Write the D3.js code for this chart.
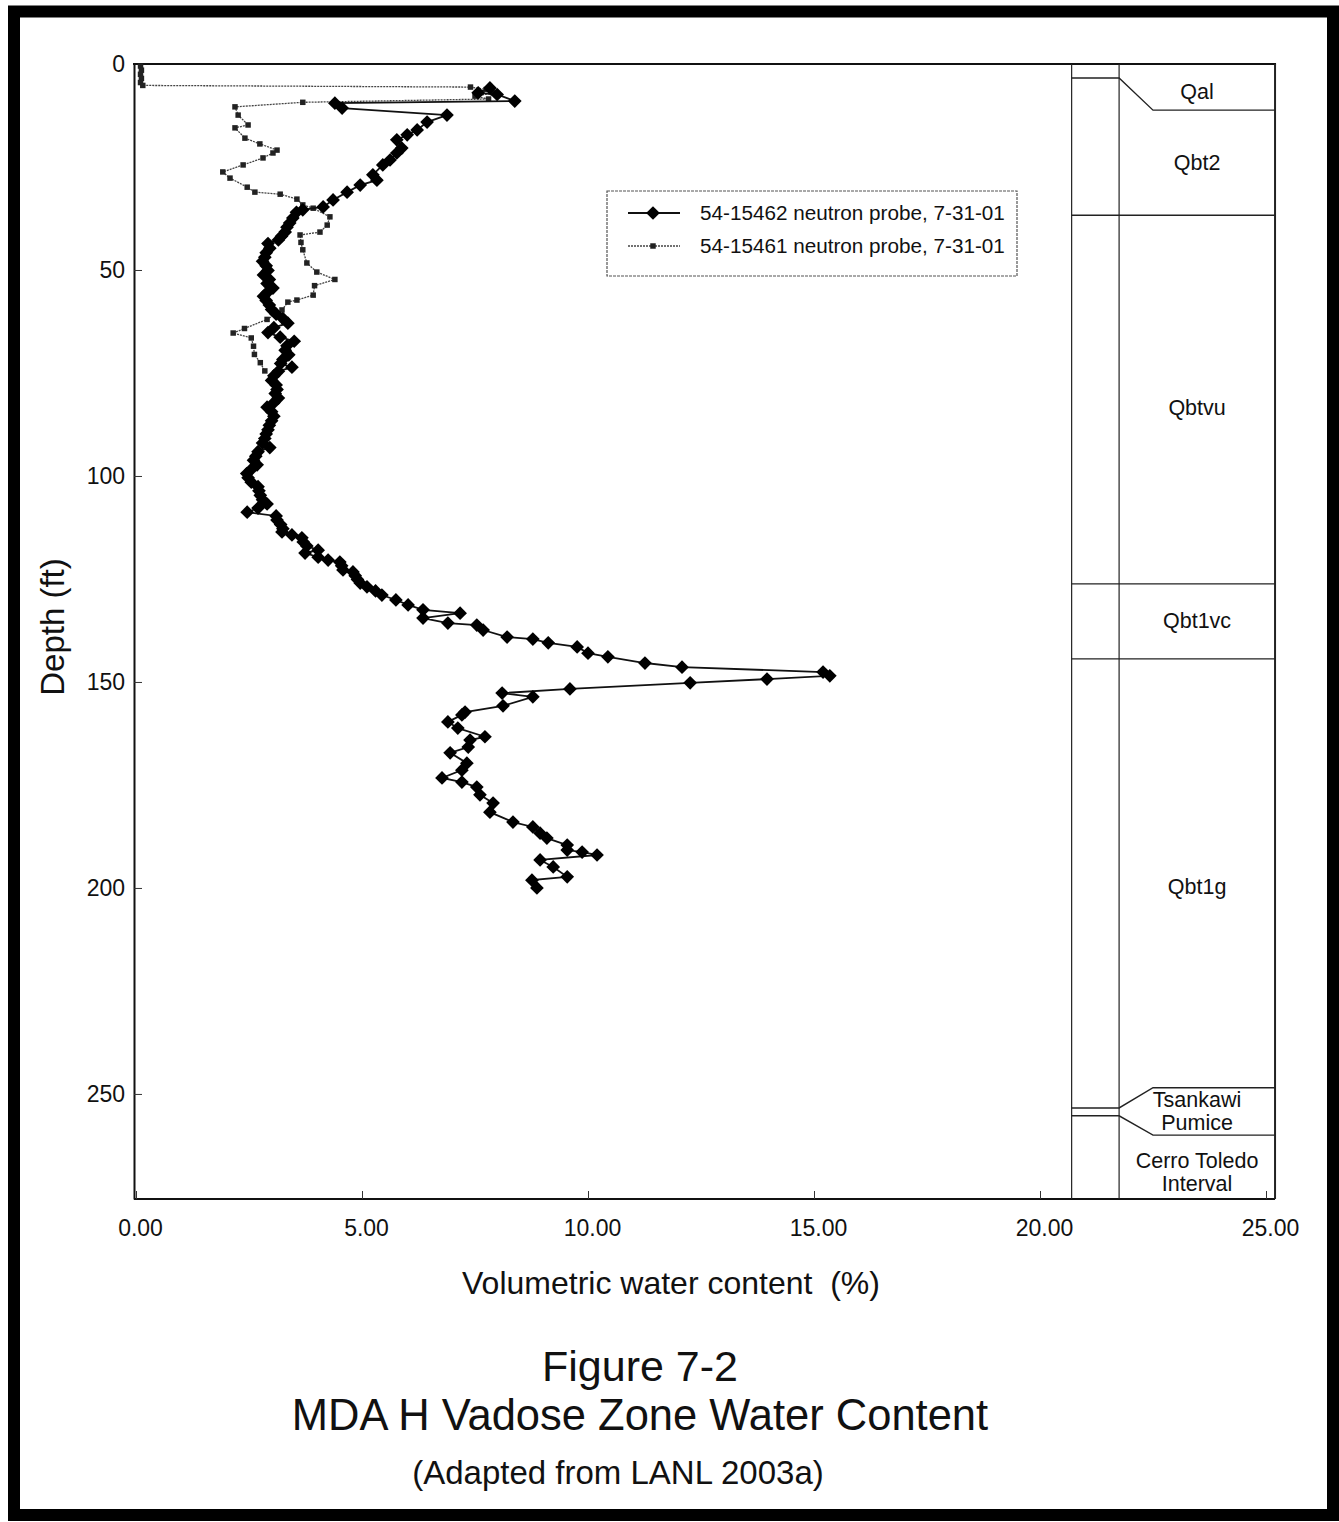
<!DOCTYPE html>
<html><head><meta charset="utf-8">
<script src="https://cdn.jsdelivr.net/npm/d3@7"></script>
<style>body{margin:0;background:#fff} svg{display:block} text{font-family:"Liberation Sans",Arial,sans-serif;fill:#111}</style>
</head><body>
<svg id="c" width="1339" height="1522"></svg>
<script>
// ---------- data ----------
const depthTicks = [0, 50, 100, 150, 200, 250];
const contentTicks = [0, 5, 10, 15, 20, 25];
const seriesNames = ["54-15462 neutron probe, 7-31-01", "54-15461 neutron probe, 7-31-01"];
// [depth ft, volumetric water content %]
const probe15462 = [
 [5.8,7.83],[7.0,7.57],[7.4,7.99],[9.0,8.38],[9.5,4.40],[10.7,4.56],[12.4,6.88],[14.1,6.44],[16.0,6.22],
 [17.2,6.00],[18.4,5.77],[20.4,5.88],[21.6,5.77],[23.3,5.62],[24.5,5.46],[26.9,5.24],[28.2,5.33],[29.4,4.96],
 [31.1,4.67],[33.0,4.36],[34.7,4.14],[35.4,3.69],[36.0,3.55],[37.4,3.47],[38.6,3.40],[39.6,3.34],[40.8,3.30],
 [41.8,3.22],[42.7,3.15],[43.6,2.92],[44.7,2.96],[45.8,2.88],[46.9,2.85],[47.9,2.80],[49.0,2.88],[50.1,2.92],
 [51.2,2.82],[52.3,2.95],[53.3,2.90],[54.4,3.03],[55.5,2.90],[56.4,2.82],[57.4,2.88],[58.5,2.95],[59.6,3.00],
 [60.7,3.10],[61.8,3.25],[62.9,3.36],[64.0,3.05],[65.2,2.92],[66.3,3.19],[67.3,3.50],[68.4,3.34],[69.5,3.30],
 [70.6,3.38],[71.7,3.25],[72.7,3.20],[73.6,3.45],[74.6,3.15],[75.7,3.05],[76.8,3.00],[77.9,3.10],[79.0,3.12],
 [80.0,3.08],[81.1,3.15],[82.2,3.05],[83.3,2.90],[84.4,3.00],[85.5,3.05],[86.6,3.00],[87.7,2.95],[88.8,2.92],
 [89.8,2.88],[90.9,2.85],[92.0,2.80],[93.1,2.96],[94.1,2.70],[95.2,2.65],[96.2,2.60],[97.3,2.68],[98.4,2.55],
 [99.4,2.45],[100.4,2.48],[101.5,2.55],[102.6,2.70],[103.6,2.72],[104.7,2.75],[105.8,2.80],[106.8,2.90],
 [107.8,2.70],[108.8,2.46],[109.7,3.10],[110.7,3.12],[111.8,3.20],[112.8,3.25],[113.6,3.23],[114.3,3.45],
 [115.0,3.67],[116.0,3.70],[117.0,3.78],[118.0,4.03],[118.7,3.74],[119.7,4.03],[120.4,4.25],[120.9,4.51],
 [121.8,4.55],[122.8,4.58],[123.3,4.80],[124.2,4.85],[125.1,4.90],[126.0,4.96],[126.9,5.11],[127.9,5.30],
 [128.9,5.44],[130.1,5.75],[131.3,6.02],[132.5,6.35],[133.3,7.17],[134.5,6.35],[135.7,6.90],[136.2,7.54],
 [137.4,7.68],[139.1,8.21],[139.6,8.78],[140.5,9.12],[141.5,9.76],[143.0,10.00],[143.9,10.44],[145.4,11.26],
 [146.4,12.08],[147.6,15.20],[148.5,15.35],[149.3,13.96],[150.2,12.26],[151.7,9.60],[152.7,8.10],[153.6,8.78],
 [155.8,8.12],[157.3,7.28],[158.0,7.21],[159.7,6.90],[161.2,7.12],[163.3,7.72],[164.1,7.39],[165.8,7.35],
 [167.2,6.95],[169.7,7.32],[171.4,7.21],[173.3,6.77],[174.3,7.21],[175.5,7.54],[177.4,7.61],[179.4,7.90],
 [181.6,7.83],[184.0,8.34],[185.2,8.78],[186.7,8.94],[187.9,9.09],[189.6,9.54],[190.8,9.54],[191.3,9.87],
 [192.0,10.20],[193.2,8.94],[194.9,9.23],[197.3,9.54],[198.1,8.76],[200.0,8.87]
];
const probe15461 = [
 [0.5,0.10],[1.5,0.12],[2.5,0.10],[3.5,0.12],[4.5,0.10],[5.2,0.15],[5.6,7.40],[6.2,7.75],[7.0,7.90],[7.8,7.50],
 [8.5,7.80],[9.3,3.69],[10.4,2.19],[12.4,2.26],[14.8,2.48],[15.5,2.19],[18.0,2.41],[19.4,2.74],[20.9,3.12],
 [21.6,3.03],[22.8,2.81],[24.5,2.37],[26.2,1.92],[27.7,2.08],[29.9,2.46],[31.1,2.63],[31.6,3.19],[32.8,3.56],
 [34.2,3.69],[35.0,3.92],[37.1,4.29],[39.1,4.23],[40.8,4.07],[41.5,3.63],[43.3,3.65],[45.1,3.69],[48.3,3.78],
 [50.5,4.00],[52.3,4.40],[53.8,3.95],[56.1,3.92],[57.3,3.56],[57.8,3.36],[59.7,3.23],[62.0,2.90],[64.2,2.40],
 [65.3,2.15],[66.5,2.55],[68.5,2.60],[70.5,2.62],[72.5,2.75],[74.5,2.85]
];
// stratigraphy
const unitNames = [["Qal"],["Qbt2"],["Qbtvu"],["Qbt1vc"],["Qbt1g"],["Tsankawi","Pumice"],["Cerro Toledo","Interval"]];
const contactsRight = [11.2, 36.7, 126.2, 144.4, 248.5, 260.0];  // depth of contact in unit column
const contactsLog   = [3.4, 36.7, 126.2, 144.4, 253.4, 255.3];   // depth of contact in log columns
const maxDepth = 275.5;

// ---------- layout ----------
const svg = d3.select("#c");
const x = d3.scaleLinear().domain([0, 25]).range([136, 1266]);
const y = d3.scaleLinear().domain([0, maxDepth]).range([64, 1199]);
const colLeft = 20.7, colInner = 21.75, colRight = 25.2, slant = 0.75;
const bigSym = 120, smallSym = 30;

svg.append("rect").attr("x",0).attr("y",0).attr("width",1339).attr("height",1522).attr("fill","#fff");
svg.append("rect").attr("x",14).attr("y",11.5).attr("width",1319).attr("height",1503.5)
  .attr("fill","none").attr("stroke","#000").attr("stroke-width",12);

// axes
const yAxis = d3.axisLeft(y).tickValues(depthTicks).tickSizeInner(-8).tickSizeOuter(0).tickPadding(9).tickFormat(d3.format("d"));
const gy = svg.append("g").attr("transform","translate(134,0)").call(yAxis);
const xAxis = d3.axisBottom(x).tickValues(contentTicks).tickSizeInner(-8).tickSizeOuter(0).tickPadding(21).tickFormat(d3.format(".2f"));
const gx = svg.append("g").attr("transform","translate(0,1199)").call(xAxis);
[gx, gy].forEach(g => {
  g.select(".domain").attr("stroke","#111").attr("stroke-width",2);
  g.selectAll(".tick line").attr("stroke","#333").attr("stroke-width",1);
  g.selectAll(".tick text").attr("font-size",23).attr("fill","#111");
});
gx.select(".domain").attr("d", `M${x(0)-2},0H${x(colRight)}`);
gx.selectAll(".tick text").attr("dx", 4);
// top frame line
svg.append("line").attr("x1",133).attr("x2",x(colRight)+1).attr("y1",y(0)).attr("y2",y(0))
  .attr("stroke","#111").attr("stroke-width",2);

// stratigraphic column
const sg = svg.append("g").attr("stroke","#222").attr("fill","none").attr("stroke-width",1.4);
[colLeft, colInner, colRight].forEach((c,i) => sg.append("line").attr("x1",x(c)).attr("x2",x(c))
  .attr("y1",y(0)).attr("y2",y(maxDepth)).attr("stroke-width", i===2?2:1.2));
contactsRight.forEach((dr,i) => {
  const dl = contactsLog[i];
  const p = d3.path();
  p.moveTo(x(colLeft), y(dl)); p.lineTo(x(colInner), y(dl));
  if (dl !== dr) p.lineTo(x(colInner + slant), y(dr));
  p.lineTo(x(colRight), y(dr));
  sg.append("path").attr("d", p.toString());
});
const bounds = [0, ...contactsRight, maxDepth];
unitNames.forEach((lines,i) => {
  const mid = (bounds[i] + bounds[i+1]) / 2;
  const cx = (x(colInner) + x(colRight)) / 2;
  const lh = 23;
  const t = svg.append("text").attr("text-anchor","middle").attr("font-size",21.5).attr("fill","#222");
  lines.forEach((ln,j) => t.append("tspan").attr("x",cx)
    .attr("y", y(mid) + 7 + (j - (lines.length-1)/2) * lh + (i===4?14:0) + (i===6?5:0) + (i===2?8:0) + (i===0?5:0)).text(ln));
});

// series
const line = d3.line().x(d => x(d[1])).y(d => y(d[0]));
svg.append("path").datum(probe15461).attr("d", line).attr("fill","none")
  .attr("stroke","#444").attr("stroke-width",1.3).attr("stroke-dasharray","2,1");
svg.append("g").selectAll("path").data(probe15461).join("path")
  .attr("transform", d => `translate(${x(d[1])},${y(d[0])})`)
  .attr("d", d3.symbol(d3.symbolSquare, smallSym)).attr("fill","#222");
svg.append("path").datum(probe15462).attr("d", line).attr("fill","none")
  .attr("stroke","#111").attr("stroke-width",1.8);
svg.append("g").selectAll("path").data(probe15462).join("path")
  .attr("transform", d => `translate(${x(d[1])},${y(d[0])})`)
  .attr("d", d3.symbol(d3.symbolDiamond2, bigSym)).attr("fill","#000");

// legend
const lg = svg.append("g");
lg.append("rect").attr("x",607).attr("y",191).attr("width",410).attr("height",85)
  .attr("fill","#fff").attr("stroke","#555").attr("stroke-width",1.2).attr("stroke-dasharray","3,1");
const lys = [213, 246];
lg.append("line").attr("x1",628).attr("x2",680).attr("y1",lys[0]).attr("y2",lys[0]).attr("stroke","#111").attr("stroke-width",1.8);
lg.append("path").attr("transform",`translate(653,${lys[0]})`).attr("d", d3.symbol(d3.symbolDiamond2, bigSym)).attr("fill","#000");
lg.append("line").attr("x1",628).attr("x2",680).attr("y1",lys[1]).attr("y2",lys[1]).attr("stroke","#444").attr("stroke-width",1.3).attr("stroke-dasharray","2,1");
lg.append("path").attr("transform",`translate(653,${lys[1]})`).attr("d", d3.symbol(d3.symbolSquare, smallSym)).attr("fill","#222");
seriesNames.forEach((n,i) => lg.append("text").attr("x",700).attr("y",lys[i]+7).attr("font-size",20.7).text(n));

// titles
svg.append("text").attr("transform","translate(64,627) rotate(-90)").attr("text-anchor","middle")
  .attr("font-size",33).text("Depth (ft)");
svg.append("text").attr("x",671).attr("y",1294).attr("text-anchor","middle").attr("font-size",32)
  .attr("xml:space","preserve").text("Volumetric water content  (%)");
svg.append("text").attr("x",640).attr("y",1381).attr("text-anchor","middle").attr("font-size",43).text("Figure 7-2");
svg.append("text").attr("x",640).attr("y",1430).attr("text-anchor","middle").attr("font-size",43.5).text("MDA H Vadose Zone Water Content");
svg.append("text").attr("x",618).attr("y",1484).attr("text-anchor","middle").attr("font-size",33).text("(Adapted from LANL 2003a)");
</script>
</body></html>
